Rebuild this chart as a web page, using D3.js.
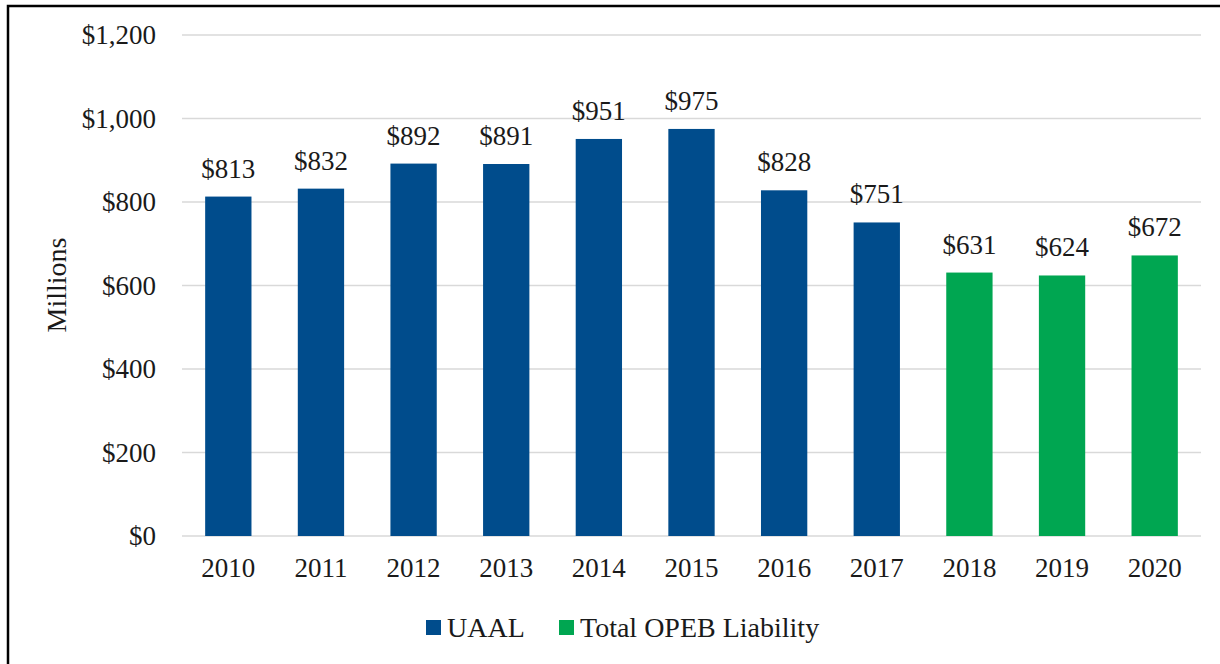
<!DOCTYPE html>
<html><head><meta charset="utf-8">
<script src="https://cdn.jsdelivr.net/npm/d3@7"></script>
<style>
body{margin:0;background:#fff;}
svg{display:block;}
text{font-family:"Liberation Serif","Times New Roman",serif;fill:#1a1a1a;}
</style></head>
<body>
<svg id="chart" width="1220" height="664"></svg>
<script>
const years = ["2010","2011","2012","2013","2014","2015","2016","2017","2018","2019","2020"];
const values = [813,832,892,891,951,975,828,751,631,624,672];
const seriesOf = ["UAAL","UAAL","UAAL","UAAL","UAAL","UAAL","UAAL","UAAL","Total OPEB Liability","Total OPEB Liability","Total OPEB Liability"];
const seriesNames = ["UAAL","Total OPEB Liability"];
const seriesColors = ["#004C8C","#00A651"];
const yTicks = [0,200,400,600,800,1000,1200];

(function(){
const svg = d3.select("#chart");
svg.append("rect").attr("x",8).attr("y",6).attr("width",1230).attr("height",680)
  .attr("fill","none").attr("stroke","#000").attr("stroke-width",2.5);

const pLeft=182, pRight=1201, pTop=35, pBottom=536;
const x = d3.scaleBand().domain(years).range([pLeft,pRight]).paddingInner(0.5).paddingOuter(0.25);
const y = d3.scaleLinear().domain([0,1200]).range([pBottom,pTop]);
const color = d3.scaleOrdinal().domain(seriesNames).range(seriesColors);
const fmt = v => "$" + d3.format(",")(v);

svg.append("g").selectAll("line").data(yTicks).join("line")
  .attr("x1",pLeft).attr("x2",pRight).attr("y1",d=>y(d)).attr("y2",d=>y(d))
  .attr("stroke","#d9d9d9").attr("stroke-width",1.5);

const yAxis = d3.axisLeft(y).tickValues(yTicks).tickFormat(fmt).tickSize(0).tickPadding(0);
const yg = svg.append("g").attr("transform",`translate(156,0)`).call(yAxis);
yg.select(".domain").remove();
yg.selectAll("text").attr("font-size",27).attr("font-family","Liberation Serif").attr("fill","#1a1a1a").attr("dy","0.32em");

const xAxis = d3.axisBottom(x).tickSize(0).tickPadding(0);
const xg = svg.append("g").attr("transform",`translate(0,${pBottom+22})`).call(xAxis);
xg.select(".domain").remove();
xg.selectAll("text").attr("font-size",27).attr("font-family","Liberation Serif").attr("fill","#1a1a1a").attr("dy","0.71em");

svg.append("g").selectAll("rect").data(years).join("rect")
  .attr("x",d=>x(d)).attr("width",x.bandwidth())
  .attr("y",(d,i)=>y(values[i])).attr("height",(d,i)=>y(0)-y(values[i]))
  .attr("fill",(d,i)=>color(seriesOf[i]));

svg.append("g").selectAll("text").data(years).join("text")
  .attr("x",d=>x(d)+x.bandwidth()/2).attr("y",(d,i)=>y(values[i])-19)
  .attr("text-anchor","middle").attr("font-size",27)
  .text((d,i)=>fmt(values[i]));

svg.append("text").attr("transform","translate(66,285) rotate(-90)")
  .attr("text-anchor","middle").attr("font-size",28).text("Millions");

const legendX = [426,559];
const lg = svg.append("g");
seriesNames.forEach((s,i)=>{
  lg.append("rect").attr("x",legendX[i]).attr("y",620).attr("width",15).attr("height",15).attr("fill",color(s));
  lg.append("text").attr("x",legendX[i]+21).attr("y",637).attr("font-size",28).text(s);
});
})();
</script>
</body></html>
